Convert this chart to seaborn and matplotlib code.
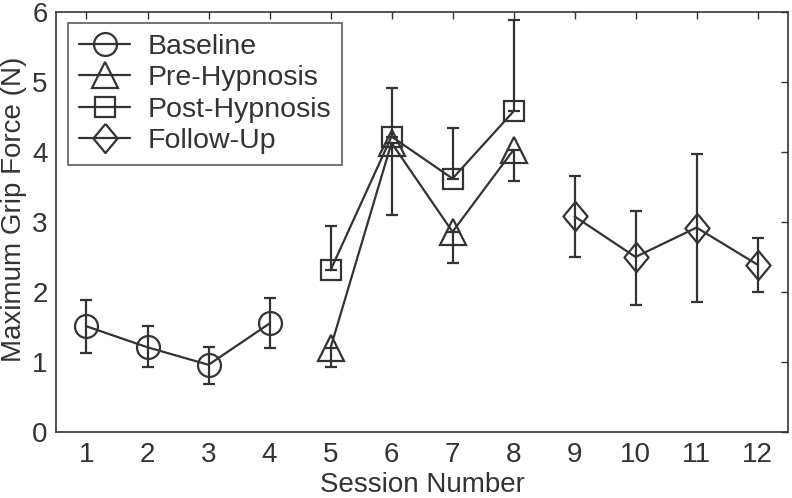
import matplotlib
matplotlib.use("Agg")
import matplotlib.pyplot as plt
import seaborn as sns
import numpy as np

# ---- data ----
baseline_x = [1, 2, 3, 4]
baseline_y = [1.51, 1.21, 0.96, 1.55]
baseline_lo = [1.13, 0.93, 0.68, 1.20]
baseline_hi = [1.89, 1.51, 1.21, 1.91]

pre_x = [5, 6, 7, 8]
pre_y = [1.20, 4.13, 2.86, 4.03]
pre_lo = [0.93, 3.10, 2.41, 3.58]
pre_hi = [1.20, 4.13, 2.86, 4.03]

post_x = [5, 6, 7, 8]
post_y = [2.31, 4.22, 3.62, 4.58]
post_lo = [2.31, 4.22, 3.62, 4.58]
post_hi = [2.94, 4.91, 4.34, 5.88]

follow_x = [9, 10, 11, 12]
follow_y = [3.08, 2.50, 2.92, 2.39]
follow_lo = [2.50, 1.81, 1.86, 2.00]
follow_hi = [3.65, 3.15, 3.97, 2.77]

labels = ["Baseline", "Pre-Hypnosis", "Post-Hypnosis", "Follow-Up"]
xticks = list(range(1, 13))
yticks = [0, 1, 2, 3, 4, 5, 6]

sns.set_theme(style="white")
plt.rcParams['font.family'] = ['Liberation Sans', 'DejaVu Sans']

col = "#333333"
FS = 20
fig = plt.figure(figsize=(7.92, 4.98), dpi=100)
ax = fig.add_axes([0.0707, 0.1325, 0.9243, 0.8435])

diamond = [(0, 1), (0.83, 0), (0, -1), (-0.83, 0), (0, 1)]

series = [
    (baseline_x, baseline_y, baseline_lo, baseline_hi, "o", 16.5, labels[0]),
    (pre_x, pre_y, pre_lo, pre_hi, "^", 18.5, labels[1]),
    (post_x, post_y, post_lo, post_hi, "s", 14, labels[2]),
    (follow_x, follow_y, follow_lo, follow_hi, diamond, 21, labels[3]),
]

for xs, ys, lo, hi, mk, ms, lab in series:
    ys_a = np.array(ys)
    yerr = np.vstack([ys_a - np.array(lo), np.array(hi) - ys_a])
    ax.errorbar(xs, ys, yerr=yerr, fmt="none", ecolor=col, elinewidth=1.6,
                capsize=4.5, capthick=1.6, zorder=2)
    sns.lineplot(x=xs, y=ys, ax=ax, color=col, lw=1.6, marker=mk,
                 markersize=ms, markerfacecolor="none", markeredgecolor=col,
                 markeredgewidth=1.6, label=lab, zorder=3)

ax.set_xlim(0.5, 12.5)
ax.set_ylim(0, 6)
ax.set_xticks(xticks)
ax.set_yticks(yticks)
ax.tick_params(direction="in", length=5, width=1, colors=col, labelsize=FS,
               top=True, right=True, labeltop=False, labelright=False)
ax.tick_params(axis="x", pad=7)
ax.tick_params(axis="y", pad=6)
for lbl in ax.get_xticklabels() + ax.get_yticklabels():
    lbl.set_color(col)
for sp in ax.spines.values():
    sp.set_color(col)
    sp.set_linewidth(1.2)
ax.set_xlabel("Session Number", fontsize=FS, color=col)
ax.set_ylabel("Maximum Grip Force (N)", fontsize=FS, color=col)
ax.xaxis.set_label_coords(0.5, -0.095)
ax.yaxis.set_label_coords(-0.040, 0.53)

leg = ax.legend(loc="upper left", bbox_to_anchor=(0.016, 0.974),
                prop={"size": 20.5}, frameon=True, fancybox=False,
                edgecolor=col, handlelength=1.8, handletextpad=0.6,
                borderpad=0.4, labelspacing=0.18, borderaxespad=0)
leg.get_frame().set_linewidth(1.2)
for t in leg.get_texts():
    t.set_color(col)

fig.savefig("out.png", dpi=100)
